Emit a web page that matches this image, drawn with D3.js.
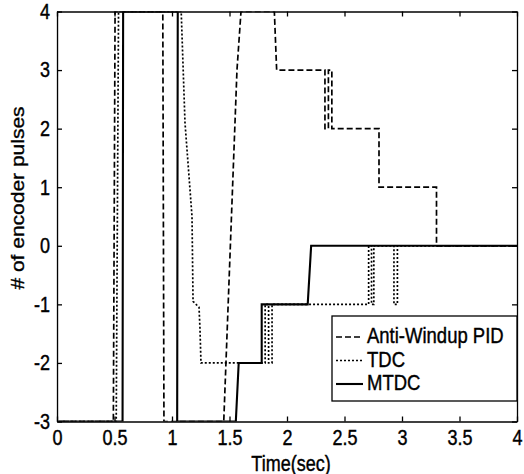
<!DOCTYPE html>
<meta charset="utf-8">
<style>
    body { margin: 0; background: #fff; }
    text { font-family: "Liberation Sans", Arial, sans-serif; fill: #000; stroke: #000; stroke-width: 0.35px; }
    .axis path, .axis line { stroke: #000; stroke-width: 1.3px; }
</style>
<svg width="524" height="474"></svg>
<script src="https://d3js.org/d3.v7.min.js"></script>
<script>

    // series (values outside [-3,4] are clipped in the original)
    var pidTime  = [0, 0, 0.49, 0.505, 0.92, 0.93, 1.45, 1.565, 1.6, 1.89, 1.91, 2.33, 2.33, 2.36, 2.36, 2.39, 2.39, 2.80, 2.80, 3.30, 3.30, 4];
    var pidValue = [4, -3, -3, 4, 4, -3, -3, 3, 4, 4, 3, 3, 2, 2, 3, 3, 2, 2, 1, 1, 0, 0];

    var tdcTime  = [0, 0, 0.515, 0.535, 1.08, 1.113, 1.174, 1.183, 1.235, 1.243, 1.252, 1.81, 1.81, 1.84, 1.84, 1.87, 1.87, 2.71, 2.71, 2.735, 2.735, 2.755, 2.755, 2.93, 2.93, 2.96, 2.96, 4];
    var tdcValue = [4, -3, -3, 4, 4, 2.1, 0.5, -0.95, -1.05, -1.4, -2, -2, -1, -1, -2, -2, -1, -1, 0, 0, -1, -1, 0, 0, -1, -1, 0, 0];

    var mtdcTime  = [0, 0, 0.57, 0.575, 1.05, 1.045, 1.555, 1.58, 1.78, 1.78, 2.18, 2.21, 4];
    var mtdcValue = [4, -3, -3, 4, 4, -3, -3, -2, -2, -1, -1, 0, 0];

    var legendNames = ["Anti-Windup PID", "TDC", "MTDC"];
    var xTicks = [0, 0.5, 1, 1.5, 2, 2.5, 3, 3.5, 4];
    var yTicks = [-3, -2, -1, 0, 1, 2, 3, 4];

    var svg = d3.select("svg"),
        plotLeft = 57, plotRight = 517, plotTop = 11.5, plotBottom = 421.5;

    var x = d3.scaleLinear().domain([0, 4]).range([plotLeft, plotRight]);
    var y = d3.scaleLinear().domain([-3, 4]).range([plotBottom, plotTop]);
    var fmt = function(d) { return String(d); };

    var series = [
        {t: pidTime, v: pidValue, dash: "6,3", w: 1.7},
        {t: tdcTime, v: tdcValue, dash: "2,2", w: 1.7},
        {t: mtdcTime, v: mtdcValue, dash: null, w: 2.1}
    ];

    svg.append("clipPath")
        .attr("id", "clip")
        .append("rect")
        .attr("x", plotLeft).attr("y", plotTop)
        .attr("width", plotRight - plotLeft).attr("height", plotBottom - plotTop);

    var line = d3.line()
        .x(function(d) { return x(d[0]); })
        .y(function(d) { return y(d[1]); });

    svg.append("g")
        .attr("clip-path", "url(#clip)")
        .selectAll("path")
        .data(series)
        .enter().append("path")
        .attr("d", function(s) { return line(s.t.map(function(t, i) { return [t, s.v[i]]; })); })
        .attr("fill", "none")
        .attr("stroke", "#000")
        .attr("stroke-width", function(s) { return s.w; })
        .attr("stroke-dasharray", function(s) { return s.dash; });

    // axes, ticks pointing inward on all four sides
    var gx = svg.append("g")
        .attr("class", "axis")
        .attr("transform", "translate(0," + plotBottom + ")")
        .call(d3.axisBottom(x).tickValues(xTicks).tickFormat(fmt).tickSizeInner(-5).tickSizeOuter(0));
    gx.selectAll(".tick text")
        .attr("y", 19.5).attr("dy", null)
        .attr("transform", "scale(1,1.2)");

    var gy = svg.append("g")
        .attr("class", "axis")
        .attr("transform", "translate(" + plotLeft + ",0)")
        .call(d3.axisLeft(y).tickValues(yTicks).tickFormat(fmt).tickSizeInner(-5).tickSizeOuter(0).tickPadding(7));
    gy.selectAll(".tick text")
        .attr("transform", "scale(1,1.2)");

    svg.append("g")
        .attr("class", "axis")
        .attr("transform", "translate(0," + plotTop + ")")
        .call(d3.axisTop(x).tickValues(xTicks).tickSizeInner(-5).tickSizeOuter(0).tickFormat(""));

    svg.append("g")
        .attr("class", "axis")
        .attr("transform", "translate(" + plotRight + ",0)")
        .call(d3.axisRight(y).tickValues(yTicks).tickSizeInner(-5).tickSizeOuter(0).tickFormat(""));

    svg.selectAll(".axis text")
        .attr("font-family", "Liberation Sans, Arial, sans-serif")
        .attr("font-size", "18px")
        .attr("fill", "#000");

    // axis titles
    svg.append("text")
        .attr("transform", "translate(291,471) scale(1,1.2)")
        .attr("text-anchor", "middle")
        .attr("font-size", "18px")
        .text("Time(sec)");

    svg.append("text")
        .attr("transform", "translate(24,198) rotate(-90) scale(1.2,1)")
        .attr("text-anchor", "middle")
        .attr("font-size", "17.5px")
        .text("# of encoder pulses");

    // legend
    var legend = svg.append("g");
    legend.append("rect")
        .attr("x", 332).attr("y", 316)
        .attr("width", plotRight - 332).attr("height", 85)
        .attr("fill", "#fff")
        .attr("stroke", "#000")
        .attr("stroke-width", 1.3);

    var rows = legend.selectAll("g.row")
        .data(series)
        .enter().append("g")
        .attr("class", "row")
        .attr("transform", function(s, i) { return "translate(0," + (337 + i * 23.5) + ")"; });

    rows.append("line")
        .attr("x1", 336).attr("x2", 363)
        .attr("stroke", "#000")
        .attr("stroke-width", function(s) { return s.w; })
        .attr("stroke-dasharray", function(s) { return s.dash; });

    rows.append("text")
        .attr("x", 367)
        .attr("transform", "translate(0,6) scale(1,1.2)")
        .attr("font-size", "18.5px")
        .text(function(s, i) { return legendNames[i]; });

</script>
